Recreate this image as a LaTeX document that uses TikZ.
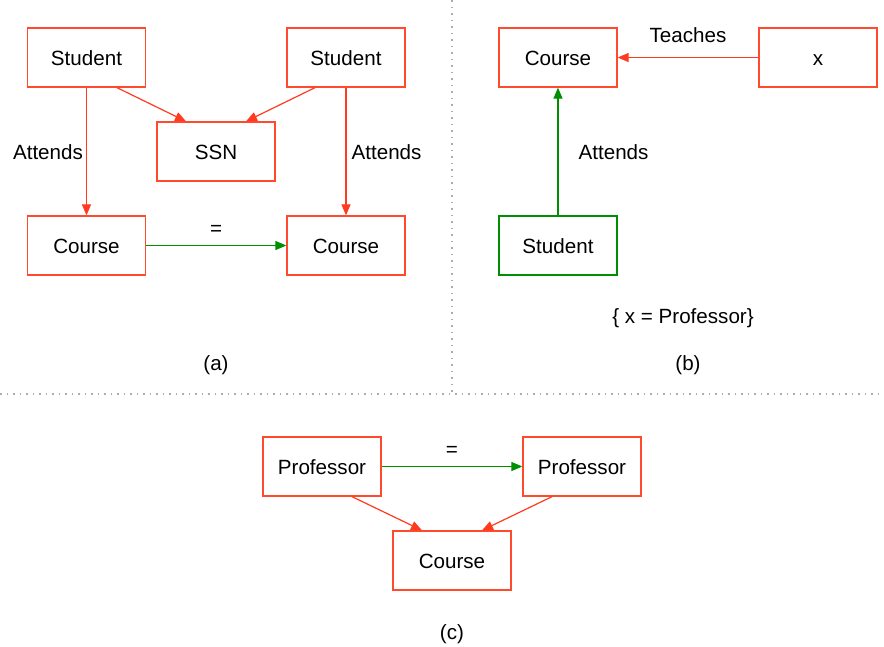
\documentclass[tikz,border=0pt]{standalone}
\usepackage{fontspec}
\setmainfont{Liberation Sans}
\usetikzlibrary{arrows.meta}
\definecolor{linkred}{HTML}{FF3A1E}
\definecolor{boxred}{HTML}{FF4A2E}
\definecolor{eqgreen}{HTML}{008F00}
\definecolor{sepgray}{HTML}{ADADAD}
\tikzset{
  entity/.style={draw=boxred, line width=1.3pt, minimum width=118pt, minimum height=59pt,
    inner sep=0pt, text height=17pt, text depth=2pt, font=\fontsize{20.6}{24}\selectfont},
  greenbox/.style={entity, draw=eqgreen},
  link/.style={draw=linkred, line width=1.2pt, -{Triangle[length=11pt,width=9pt]}},
  eqlink/.style={draw=eqgreen, line width=1.2pt, -{Triangle[length=11pt,width=9pt]}},
  lbl/.style={font=\fontsize{20.6}{24}\selectfont, inner sep=0pt, text height=17pt, text depth=2pt},
  separator/.style={draw=sepgray, line width=1.3pt, dash pattern=on 1.6pt off 4.9pt}
}
\begin{document}
\begin{tikzpicture}[x=1pt, y=-1pt]
  \useasboundingbox (0,0) rectangle (884,646);

  % separators between the three panels
  \coordinate (vtop) at (452,0);
  \coordinate (vbot) at (452,392);
  \coordinate (hl) at (0,394);
  \coordinate (hr) at (884,394);
  \draw[separator] (vtop) -- (vbot);
  \draw[separator] (hl) -- (hr);

  % panel (a)
  \node[entity] (sl) at (86.5,57.5) {Student};
  \node[entity] (sr) at (346,57.5) {Student};
  \node[entity] (ssn) at (216,151.5) {SSN};
  \node[entity] (cl) at (86.5,245.5) {Course};
  \node[entity] (cr) at (346,245.5) {Course};
  \draw[link] ([xshift=30.5pt]sl.south) -- ([xshift=-30pt]ssn.north);
  \draw[link] ([xshift=-31pt]sr.south) -- ([xshift=30pt]ssn.north);
  \draw[link] (sl) -- node[lbl, left=3pt] {Attends} (cl);
  \draw[link] (sr) -- node[lbl, right=5pt] {Attends} (cr);
  \draw[eqlink] (cl) -- node[lbl, above=7pt] {=} (cr);
  \node[lbl] (capa) at (216,363) {(a)};

  % panel (b)
  \node[entity] (cb) at (558,57.5) {Course};
  \node[entity] (xb) at (818,57.5) {x};
  \node[greenbox] (sb) at (558,245.5) {Student};
  \draw[link] (xb) -- node[lbl, above=12pt] {Teaches} (cb);
  \draw[eqlink] (sb) -- node[lbl, right=20pt] {Attends} (cb);
  \node[lbl] (subst) at (683,316) {\{ x = Professor\}};
  \node[lbl] (capb) at (688,363) {(b)};

  % panel (c)
  \node[entity] (pl) at (322,466.5) {Professor};
  \node[entity] (pr) at (582,466.5) {Professor};
  \node[entity] (cc) at (452,560.5) {Course};
  \draw[eqlink] (pl) -- node[lbl, above=7pt] {=} (pr);
  \draw[link] ([xshift=30pt]pl.south) -- ([xshift=-30pt]cc.north);
  \draw[link] ([xshift=-30pt]pr.south) -- ([xshift=30pt]cc.north);
  \node[lbl] (capc) at (452,632) {(c)};
\end{tikzpicture}
\end{document}
